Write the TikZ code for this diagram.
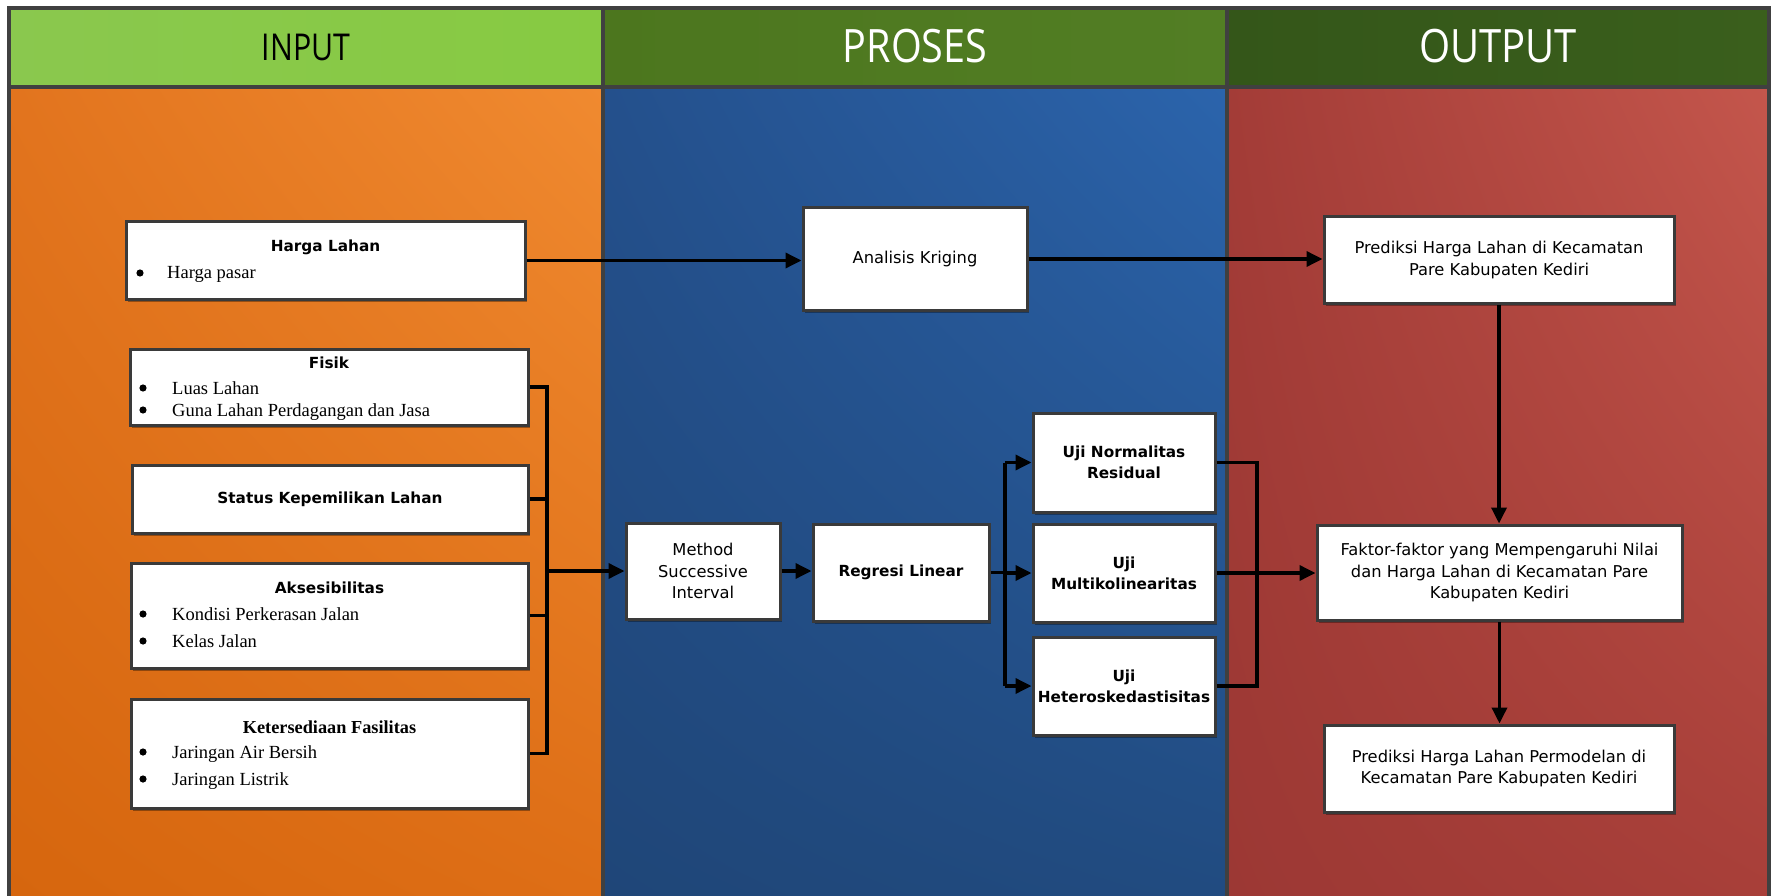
\documentclass[tikz,border=0pt]{standalone}
\usepackage{fontspec}
\usepackage{graphicx}
\setmainfont{Liberation Serif}
\newfontfamily\boxfont{DejaVu Sans}
\newfontfamily\headfont{Open Sans}
\usetikzlibrary{arrows.meta,shadows,shadings}
\definecolor{framegray}{RGB}{64,64,64}
\definecolor{boxgray}{RGB}{58,58,58}
\definecolor{inA}{RGB}{138,200,78}
\definecolor{inB}{RGB}{135,202,66}
\definecolor{prA}{RGB}{76,118,30}
\definecolor{prB}{RGB}{82,126,36}
\definecolor{ouA}{RGB}{52,86,25}
\definecolor{ouB}{RGB}{58,95,28}
\definecolor{orUL}{RGB}{226,116,30}
\definecolor{orUR}{RGB}{240,138,48}
\definecolor{orLL}{RGB}{214,102,14}
\definecolor{orLR}{RGB}{222,110,22}
\definecolor{blUL}{RGB}{36,80,140}
\definecolor{blUR}{RGB}{43,100,172}
\definecolor{blLL}{RGB}{31,70,120}
\definecolor{blLR}{RGB}{33,75,128}
\definecolor{rdUL}{RGB}{163,60,55}
\definecolor{rdUR}{RGB}{196,86,76}
\definecolor{rdLL}{RGB}{156,56,52}
\definecolor{rdLR}{RGB}{168,63,57}
\tikzset{
  box/.style={draw=boxgray, line width=3pt, fill=white, inner sep=2pt, align=center,
    drop shadow={shadow xshift=2pt, shadow yshift=-3pt, opacity=0.35, fill=black}},
  rtxt/.style={font=\boxfont\fontsize{16.3}{21.5}\selectfont},
  btxt/.style={font=\boxfont\bfseries\fontsize{15.3}{21}\selectfont},
  stitle/.style={font=\boxfont\bfseries\fontsize{15.3}{18}\selectfont, anchor=base, inner sep=0},
  rtitle/.style={font=\bfseries\fontsize{18.3}{22}\selectfont, anchor=base, inner sep=0},
  bul/.style={font=\fontsize{18.5}{22}\selectfont, anchor=base west, inner sep=0},
  arr/.style={line width=3.5pt, -{Triangle[length=16pt,width=15pt]}},
  ln/.style={line width=3.5pt},
  head/.style={inner sep=0, anchor=center},
}
\newcommand{\bdot}[2]{\fill[black] (#1,#2) circle (3.6);}
\begin{document}
\begin{tikzpicture}[x=1pt,y=-1pt]
\useasboundingbox (0,0) rectangle (1773,896);
\fill[white] (0,0) rectangle (1773,896);
% header fills
\shade[left color=inA, right color=inB] (9,8) rectangle (603,87);
\shade[left color=prA, right color=prB] (603,8) rectangle (1227,87);
\shade[left color=ouA, right color=ouB] (1227,8) rectangle (1768,87);
% body fills
\shade[upper left=orUL, upper right=orUR, lower left=orLL, lower right=orLR] (9,87) rectangle (603,896);
\shade[upper left=blUL, upper right=blUR, lower left=blLL, lower right=blLR] (603,87) rectangle (1227,896);
\shade[upper left=rdUL, upper right=rdUR, lower left=rdLL, lower right=rdLR] (1227,87) rectangle (1768,896);
% frame
\draw[framegray, line width=4pt] (9,896) -- (9,8.5) -- (1768.5,8.5) -- (1768.5,896);
\draw[framegray, line width=4pt] (9,87) -- (1768.5,87);
\draw[framegray, line width=4pt] (603,8.5) -- (603,896);
\draw[framegray, line width=4pt] (1227,8.5) -- (1227,896);
% headers
\node[head] (hin) at (306,47) {\headfont\fontsize{37}{40}\selectfont\scalebox{0.82}[1]{INPUT}};
\node[head, text=white] (hpr) at (915,46) {\headfont\fontsize{46}{50}\selectfont\scalebox{0.86}[1]{PROSES}};
\node[head, text=white] (hou) at (1498,46) {\headfont\fontsize{46}{50}\selectfont\scalebox{0.87}[1]{OUTPUT}};

% INPUT boxes
\node[box, minimum width=399, minimum height=77] (hl) at (325.5,260.5) {};
\node[stitle] (hlt) at (325.5,252) {Harga Lahan};
\bdot{140}{273}
\node[bul] (hl1) at (167,279) {Harga pasar};

\node[box, minimum width=398, minimum height=76] (fis) at (329,387) {};
\node[stitle] (fist) at (329,368) {Fisik};
\bdot{143}{388}
\node[bul] (fis1) at (172,394) {Luas Lahan};
\bdot{143}{410}
\node[bul] (fis2) at (172,416) {Guna Lahan Perdagangan dan Jasa};

\node[box, btxt, minimum width=396, minimum height=68] (stat) at (330,499) {Status Kepemilikan Lahan};

\node[box, minimum width=397, minimum height=105] (aks) at (329.5,615.5) {};
\node[stitle] (akst) at (329.5,593) {Aksesibilitas};
\bdot{143}{614}
\node[bul] (aks1) at (172,620) {Kondisi Perkerasan Jalan};
\bdot{143}{641}
\node[bul] (aks2) at (172,647) {Kelas Jalan};

\node[box, minimum width=397, minimum height=109] (ket) at (329.5,753.5) {};
\node[rtitle] (kett) at (329.5,733) {Ketersediaan Fasilitas};
\bdot{143}{752}
\node[bul] (ket1) at (172,758) {Jaringan Air Bersih};
\bdot{143}{779}
\node[bul] (ket2) at (172,785) {Jaringan Listrik};

% PROSES boxes
\node[box, rtxt, minimum width=224, minimum height=102] (krig) at (915,259) {Analisis Kriging};
\node[box, rtxt, minimum width=154, minimum height=96] (msi) at (703,571) {Method\\Successive\\Interval};
\node[box, btxt, minimum width=176, minimum height=97] (reg) at (901,572.5) {Regresi Linear};
\node[box, btxt, minimum width=182, minimum height=99] (ujn) at (1124,462.5) {Uji Normalitas\\Residual};
\node[box, btxt, minimum width=182, minimum height=98] (ujm) at (1124,573) {Uji\\Multikolinearitas};
\node[box, btxt, minimum width=182, minimum height=98] (ujh) at (1124,686) {Uji\\Heteroskedastisitas};

% OUTPUT boxes
\node[box, rtxt, minimum width=350, minimum height=86] (pred) at (1499,260) {Prediksi Harga Lahan di Kecamatan\\Pare Kabupaten Kediri};
\node[box, rtxt, minimum width=365, minimum height=95] (fak) at (1499.5,572.5) {Faktor-faktor yang Mempengaruhi Nilai\\dan Harga Lahan di Kecamatan Pare\\Kabupaten Kediri};
\node[box, rtxt, minimum width=350, minimum height=87] (perm) at (1499,768.5) {Prediksi Harga Lahan Permodelan di\\Kecamatan Pare Kabupaten Kediri};

% bus coordinates
\coordinate (ibus) at (547,571);
\coordinate (rbus) at (1005,572.5);
\coordinate (obus) at (1257,573);

% connectors
\draw[arr] (hl.east) -- (hl.east -| krig.west);
\draw[arr] (krig.east) -- (krig.east -| pred.west);

\draw[ln] (fis.east) -- (fis.east -| ibus) -- (ket.east -| ibus) -- (ket.east);
\draw[ln] (stat.east) -- (stat.east -| ibus);
\draw[ln] (aks.east) -- (aks.east -| ibus);
\draw[arr] (ibus) -- (msi.west);
\draw[arr] (msi.east) -- (msi.east -| reg.west);

\draw[ln] (reg.east) -- (rbus);
\draw[ln] (rbus |- ujn.west) -- (rbus |- ujh.west);
\draw[arr] (rbus |- ujn.west) -- (ujn.west);
\draw[arr] (rbus |- ujm.west) -- (ujm.west);
\draw[arr] (rbus |- ujh.west) -- (ujh.west);

\draw[ln] (ujn.east) -- (ujn.east -| obus) -- (ujh.east -| obus) -- (ujh.east);
\draw[arr] (ujm.east) -- (ujm.east -| fak.west);

\draw[arr] (pred.south) -- (pred.south |- fak.north);
\draw[arr] (fak.south) -- (fak.south |- perm.north);
\end{tikzpicture}
\end{document}
